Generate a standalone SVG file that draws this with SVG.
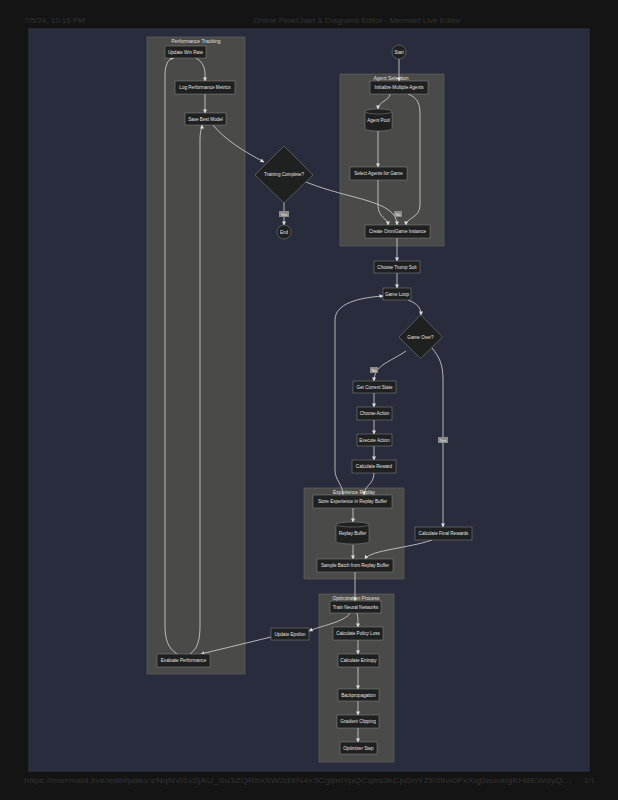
<svg xmlns="http://www.w3.org/2000/svg" width="618" height="800" viewBox="0 0 618 800">
<defs>
<marker id="ah" viewBox="0 0 10 10" refX="9" refY="5" markerWidth="4" markerHeight="4" markerUnits="userSpaceOnUse" orient="auto">
<path d="M0,0 L10,5 L0,10 z" fill="#dddddd"/>
</marker>
<style>
.page{font-family:"Liberation Sans",Arial,sans-serif;font-size:8px;fill:#333333}
.cl{fill:#4a4a48;stroke:#666664;stroke-width:0.6}
.ct{font-family:"Liberation Sans",Arial,sans-serif;font-size:5px;fill:#e0e0e0;text-anchor:middle}
.n{fill:#1f2020;stroke:#8a8a8a;stroke-width:0.5}
.t{font-family:"Liberation Sans",Arial,sans-serif;font-size:4.6px;fill:#e4e4e4;text-anchor:middle;dominant-baseline:central}
.e{fill:none;stroke:#d8d8d8;stroke-width:0.8;marker-end:url(#ah)}
.lb{fill:#8a8a8a}
.lt{font-family:"Liberation Sans",Arial,sans-serif;font-size:4px;fill:#f0f0f0;text-anchor:middle;dominant-baseline:central}
</style>
</defs>
<rect width="618" height="800" fill="#141414"/>
<text class="page" x="24" y="23">7/5/24, 10:16 PM</text>
<text class="page" x="357" y="23" text-anchor="middle">Online FlowChart &amp; Diagrams Editor - Mermaid Live Editor</text>
<rect x="29" y="29" width="560" height="742" fill="#292c3c" stroke="#34374a" stroke-width="1"/>
<text class="page" x="24" y="783" textLength="548" lengthAdjust="spacingAndGlyphs">https://mermaid.live/edit#pako:eNqNVl1v2jAU_Su3ZQRbxXW2dXN4x3Cg8mYpQCqbs3kCpGnYZE0lIw0FxXqj0aoubgKH8EWdyQ…</text>
<text class="page" x="595" y="783" text-anchor="end">1/1</text>

<g id="clusters">
<g id="performance-tracking"><rect class="cl" x="147" y="37" width="98" height="637"/><text class="ct" x="196" y="42.5">Performance Tracking</text></g>
<g id="agent-selection"><rect class="cl" x="340" y="74" width="104" height="172"/><text class="ct" x="391" y="79.5">Agent Selection</text></g>
<g id="experience-replay"><rect class="cl" x="304" y="488" width="100" height="91"/><text class="ct" x="354" y="493.5">Experience Replay</text></g>
<g id="optimization-process"><rect class="cl" x="319" y="594" width="75" height="168"/><text class="ct" x="356" y="599.5">Optimization Process</text></g>
</g>

<g id="connectors">
<path class="e" d="M399,59 L399,81"/>
<path class="e" d="M390,94 C390,100 378,102 378,109"/>
<path class="e" d="M408,94 C418,98 420,104 420,115 L420,205 C420,218 406,218 406,225"/>
<path class="e" d="M378,131 L378,167"/>
<path class="e" d="M378,180 L378,205 C378,218 388,218 388,225"/>
<path class="e" d="M213,125 C225,140 245,152 264,162"/>
<path class="e" d="M284,202 L284,225"/>
<path class="e" d="M306,182 C350,200 397,200 397,225"/>
<path class="e" d="M397,238 L397,261"/>
<path class="e" d="M397,273 L397,288"/>
<path class="e" d="M408,300 C418,304 421,308 421,315"/>
<path class="e" d="M406,351 C390,362 374,365 374,381"/>
<path class="e" d="M432,348 C440,358 443,365 443,380 L443,527"/>
<path class="e" d="M374,393 L374,407"/>
<path class="e" d="M374,420 L374,434"/>
<path class="e" d="M374,446 L374,460"/>
<path class="e" d="M374,473 C374,485 364,485 364,495"/>
<path class="e" d="M343,495 C343,485 335,480 335,470 L335,320 C335,300 370,297 383,296"/>
<path class="e" d="M353,508 L353,522"/>
<path class="e" d="M353,545 L353,559"/>
<path class="e" d="M432,540 C410,548 370,550 365,559"/>
<path class="e" d="M355,572 L355,601"/>
<path class="e" d="M357,613 C358,618 358,620 358,627"/>
<path class="e" d="M350,613 C345,622 320,626 309,631"/>
<path class="e" d="M271,637 L201,654"/>
<path class="e" d="M358,640 L358,654"/>
<path class="e" d="M358,667 L358,689"/>
<path class="e" d="M358,701 L358,715"/>
<path class="e" d="M358,728 L358,742"/>
<path class="e" d="M177,654 C168,648 165,640 165,625 L165,75 C165,62 170,58 174,58"/>
<path class="e" d="M190,654 C198,648 200,640 200,625 L200,140 C200,130 202,128 202,125"/>
<path class="e" d="M196,58 C203,62 205,68 205,75 L205,81"/>
<path class="e" d="M205,94 L205,113"/>
<g id="edge-labels">
<rect class="lb" x="279" y="211" width="10" height="6"/><text class="lt" x="284" y="214">Yes</text>
<rect class="lb" x="394" y="211" width="8" height="6"/><text class="lt" x="398" y="214">No</text>
<rect class="lb" x="370" y="367" width="8" height="6"/><text class="lt" x="374" y="370">No</text>
<rect class="lb" x="438" y="437" width="10" height="6"/><text class="lt" x="443" y="440">Yes</text>
</g>
</g>

<g id="start"><circle class="n" cx="399" cy="52" r="7"/><text class="t" x="399" y="52">Start</text></g>
<g id="init-agents"><rect class="n" x="370" y="81" width="58" height="13"/><text class="t" x="399" y="87.5">Initialize Multiple Agents</text></g>
<g id="agent-pool"><path class="n" d="M365,111.5 A13.5,2.5 0 0 1 392,111.5 L392,128.5 A13.5,2.5 0 0 1 365,128.5 Z"/><path d="M365,111.5 A13.5,2.5 0 0 0 392,111.5" fill="none" stroke="#8a8a8a" stroke-width="0.5"/><text class="t" x="378.5" y="120">Agent Pool</text></g>
<g id="select-agents"><rect class="n" x="350" y="167" width="57" height="13"/><text class="t" x="378.5" y="173.5">Select Agents for Game</text></g>
<g id="create-omnigame"><rect class="n" x="365" y="225" width="65" height="13"/><text class="t" x="397.5" y="231.5">Create OmniGame Instance</text></g>
<g id="training-complete"><polygon class="n" points="284,146 313,175 284,203 255,175"/><text class="t" x="284" y="174.5">Training Complete?</text></g>
<g id="end"><circle class="n" cx="284" cy="232" r="7"/><text class="t" x="284" y="232">End</text></g>
<g id="choose-trump"><rect class="n" x="374" y="261" width="46" height="12"/><text class="t" x="397" y="267">Choose Trump Suit</text></g>
<g id="game-loop"><rect class="n" x="383" y="288" width="28" height="12"/><text class="t" x="397" y="294">Game Loop</text></g>
<g id="game-over"><polygon class="n" points="420.5,315 442.5,337 420.5,358.5 399,337"/><text class="t" x="420.5" y="337">Game Over?</text></g>
<g id="get-state"><rect class="n" x="353" y="381" width="43" height="12"/><text class="t" x="374.5" y="387">Get Current State</text></g>
<g id="choose-action"><rect class="n" x="357" y="407" width="35" height="13"/><text class="t" x="374.5" y="413.5">Choose Action</text></g>
<g id="execute-action"><rect class="n" x="357" y="434" width="35" height="12"/><text class="t" x="374.5" y="440">Execute Action</text></g>
<g id="calc-reward"><rect class="n" x="352" y="460" width="44" height="13"/><text class="t" x="374" y="466.5">Calculate Reward</text></g>
<g id="store-experience"><rect class="n" x="313" y="495" width="79" height="13"/><text class="t" x="352.5" y="501.5">Store Experience in Replay Buffer</text></g>
<g id="replay-buffer"><path class="n" d="M336,524.5 A16.5,2.5 0 0 1 369,524.5 L369,541.5 A16.5,2.5 0 0 1 336,541.5 Z"/><path d="M336,524.5 A16.5,2.5 0 0 0 369,524.5" fill="none" stroke="#8a8a8a" stroke-width="0.5"/><text class="t" x="352.5" y="533.5">Replay Buffer</text></g>
<g id="final-rewards"><rect class="n" x="415" y="527" width="57" height="13"/><text class="t" x="443.5" y="533.5">Calculate Final Rewards</text></g>
<g id="sample-batch"><rect class="n" x="317" y="559" width="76" height="13"/><text class="t" x="355" y="565.5">Sample Batch from Replay Buffer</text></g>
<g id="train-nn"><rect class="n" x="330" y="601" width="51" height="12"/><text class="t" x="355.5" y="607">Train Neural Networks</text></g>
<g id="update-epsilon"><rect class="n" x="271" y="628" width="38" height="12"/><text class="t" x="290" y="634">Update Epsilon</text></g>
<g id="policy-loss"><rect class="n" x="333" y="627" width="50" height="13"/><text class="t" x="358" y="633.5">Calculate Policy Loss</text></g>
<g id="entropy"><rect class="n" x="338" y="654" width="41" height="13"/><text class="t" x="358.5" y="660.5">Calculate Entropy</text></g>
<g id="evaluate-performance"><rect class="n" x="157" y="654" width="53" height="13"/><text class="t" x="183.5" y="660.5">Evaluate Performance</text></g>
<g id="backprop"><rect class="n" x="338" y="689" width="41" height="12"/><text class="t" x="358.5" y="695">Backpropagation</text></g>
<g id="grad-clip"><rect class="n" x="337" y="715" width="42" height="13"/><text class="t" x="358" y="721.5">Gradient Clipping</text></g>
<g id="optimizer-step"><rect class="n" x="340" y="742" width="37" height="12"/><text class="t" x="358.5" y="748">Optimizer Step</text></g>
<g id="update-win-rate"><rect class="n" x="165" y="46" width="41" height="12"/><text class="t" x="185.5" y="52">Update Win Rate</text></g>
<g id="log-metrics"><rect class="n" x="175" y="81" width="60" height="13"/><text class="t" x="205" y="87.5">Log Performance Metrics</text></g>
<g id="save-best"><rect class="n" x="185" y="113" width="41" height="12"/><text class="t" x="205.5" y="119">Save Best Model</text></g>
</svg>
